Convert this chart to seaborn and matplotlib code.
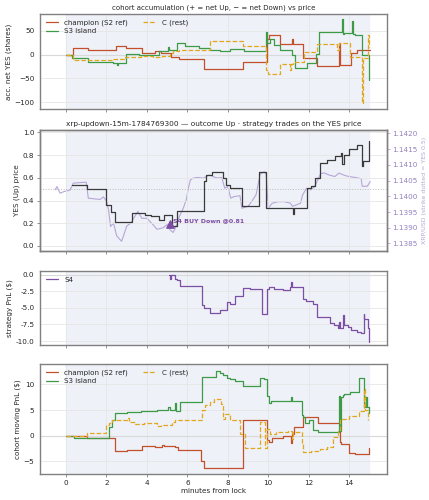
import numpy as np
import pandas as pd
import matplotlib
matplotlib.use("Agg")
import matplotlib.pyplot as plt
import seaborn as sns

# ---- panel 1: cohort accumulation (shares) ----
acc_champ_t = [0, 0.35, 1.1, 2.45, 2.95, 3.75, 4.4, 4.7, 5.2, 5.6, 6.8, 8.75, 9.93, 10.05, 10.6, 11.2, 11.25,
               11.7, 12.4, 13.5, 13.55, 14.1, 14.4, 15.05]
acc_champ_v = [0, 13, 9, 18, 14, 3, 7, 3, -5, -10, -30, -15, 33, 40, 22, 33, 22, -8, -24, 25, -22, 3, 9, 9]

acc_s3_t = [0, 0.3, 1.1, 2.3, 2.5, 2.55, 2.97, 3.6, 4.0, 4.6, 5.05, 5.1, 5.5, 5.9, 6.6, 7.1, 7.6, 8.1, 8.8,
            9.9, 9.95, 10.1, 10.3, 10.6, 11.2, 11.35, 11.9, 12.35, 12.5, 13.65, 13.7, 13.75, 14.15, 14.2,
            14.3, 14.65, 15.0]
acc_s3_v = [0, -7, -15, -17, -22, -17, 1, -1, 0, 8, 15, 9, 24, 19, 14, 10, 7, 12, 7, 48, 25, 33, 20, 9, -1,
            -29, -18, 2, 47, 75, 44, 45, 70, 43, 40, -1, -53]

acc_c_t = [0, 0.35, 2.3, 2.9, 3.7, 4.3, 4.75, 5.15, 5.3, 5.6, 7.12, 8.76, 9.9, 10.0, 10.6, 11.1, 11.15, 11.25,
           11.75, 12.4, 13.4, 13.5, 14.05, 14.65, 14.7, 14.95, 15.0]
acc_c_v = [0, -12, -10, -5, -2, -5, -2, 3, 8, 10, 29, 19, -33, -40, -19, -32, -19, -15, 5, 23, 10, 24, -5,
           -102, -8, 40, 15]

# ---- panel 2: YES price and XRP/USD ----
yes_t = [0.3, 1.02, 2.0, 2.2, 2.4, 3.25, 3.9, 4.2, 4.6, 4.85, 5.25, 5.47, 6.8, 6.9, 7.2, 7.75, 7.9, 8.1, 8.7,
         9.55, 9.9, 11.22, 11.3, 11.9, 12.1, 12.3, 12.55, 12.9, 13.3, 13.6, 13.65, 13.75, 14.0, 14.4, 14.62,
         14.7, 14.95, 15.0]
yes_v = [0.54, 0.50, 0.36, 0.30, 0.21, 0.29, 0.27, 0.26, 0.23, 0.27, 0.18, 0.31, 0.57, 0.62, 0.655, 0.60,
         0.54, 0.51, 0.35, 0.655, 0.33, 0.28, 0.33, 0.51, 0.53, 0.60, 0.73, 0.76, 0.79, 0.82, 0.72, 0.80,
         0.85, 0.89, 0.70, 0.75, 0.75, 0.92]

xrp_t = [-0.54, -0.45, -0.3, -0.1, 0.2, 0.36, 1.0, 1.1, 1.68, 1.85, 2.0, 2.1, 2.2, 2.35, 2.5, 2.6, 2.75,
         3.0, 3.2, 3.4, 3.55, 3.75, 4.0, 4.3, 4.5, 4.8, 5.0, 5.15, 5.3, 5.45, 5.6, 5.8, 5.95, 6.05, 6.15,
         6.3, 6.5, 6.8, 7.1, 7.3, 7.5, 7.7, 7.85, 8.0, 8.15, 8.3, 8.6, 8.7, 8.85, 9.0, 9.2, 9.4, 9.6, 9.8,
         9.9, 10.0, 10.2, 10.5, 10.8, 11.1, 11.2, 11.4, 11.6, 11.7, 11.9, 12.1, 12.3, 12.45, 12.6, 12.8,
         13.0, 13.3, 13.5, 13.8, 14.0, 14.3, 14.6, 14.65, 14.9, 15.05]
xrp_v = [1.14021, 1.14031, 1.14010, 1.14015, 1.14020, 1.14042, 1.14045, 1.13994, 1.13990, 1.13998, 1.13985,
         1.13957, 1.13904, 1.13915, 1.13875, 1.13867, 1.13857, 1.13905, 1.13915, 1.13936, 1.13952, 1.13930,
         1.13930, 1.13910, 1.13895, 1.13900, 1.13910, 1.13893, 1.13885, 1.13905, 1.13935, 1.13962, 1.13990,
         1.14026, 1.14052, 1.14058, 1.14060, 1.14058, 1.14068, 1.14062, 1.14058, 1.14060, 1.14026, 1.14031,
         1.13994, 1.13999, 1.14002, 1.13962, 1.13965, 1.13968, 1.13985, 1.14005, 1.14070, 1.14078, 1.14070,
         1.13962, 1.13978, 1.13983, 1.13983, 1.13978, 1.13968, 1.13973, 1.13978, 1.14004, 1.14026, 1.14020,
         1.14031, 1.14052, 1.14073, 1.14074, 1.14068, 1.14063, 1.14074, 1.14066, 1.14063, 1.14060, 1.14056,
         1.14032, 1.14032, 1.14047]
trade_t = 5.15
trade_yes = 0.19
trade_label = "S4 BUY Down @0.81"

# ---- panel 3: strategy PnL ----
s4_t = [5.1, 5.15, 5.2, 5.4, 5.5, 5.63, 6.72, 6.8, 7.1, 7.6, 7.94, 8.1, 8.35, 8.76, 9.1, 9.67, 9.92, 10.05,
        10.3, 10.74, 11.07, 11.12, 11.17, 11.7, 11.86, 12.2, 12.4, 12.55, 13.05, 13.25, 13.45, 13.5, 13.55,
        13.7, 13.75, 13.95, 14.1, 14.37, 14.6, 14.72, 14.76, 14.94, 15.0]
s4_v = [-0.1, -0.6, 0.0, -0.6, -0.85, -1.7, -4.6, -5.1, -5.85, -5.35, -4.2, -4.5, -3.2, -2.0, -2.1, -5.95,
        -2.2, -1.85, -2.1, -2.25, -1.85, -1.1, -1.85, -3.6, -4.0, -4.5, -6.35, -6.45, -7.35, -7.6, -8.1,
        -7.1, -8.1, -6.1, -7.6, -7.85, -8.35, -8.6, -8.85, -6.0, -6.7, -8.1, -10.1]

# ---- panel 4: cohort moving PnL ----
pnl_champ_t = [0, 1.05, 2.42, 3.0, 3.74, 4.4, 4.75, 4.85, 5.4, 5.55, 6.7, 6.8, 8.76, 9.92, 10.05, 10.2, 10.74,
               11.15, 11.2, 11.3, 11.7, 12.47, 13.54, 13.6, 14.0, 14.3, 15.0]
pnl_champ_v = [0, -0.5, -3.0, -2.8, -2.1, -2.3, -1.8, -2.0, -2.2, -2.8, -5.0, -6.4, 3.0, -0.9, -1.2, -0.45,
               0.0, -1.5, 0.4, 1.7, 3.7, 2.4, -1.2, -1.7, -3.3, -3.5, -2.4]

pnl_s3_t = [0, 0.4, 2.0, 2.1, 2.25, 2.42, 3.0, 3.7, 4.5, 5.05, 5.15, 5.4, 5.45, 5.63, 6.75, 7.4, 7.6, 7.75,
            7.95, 8.1, 8.35, 8.76, 9.6, 9.78, 9.95, 10.05, 10.15, 10.55, 11.15, 11.2, 11.65, 11.72, 11.8, 12.0,
            12.2, 12.47, 13.5, 13.55, 13.62, 13.68, 13.75, 14.05, 14.5, 14.73, 14.85, 14.9, 15.0]
pnl_s3_v = [0, -0.5, -0.5, 1.75, 3.0, 4.45, 4.6, 4.8, 5.0, 5.5, 5.1, 6.3, 4.9, 6.5, 11.4, 12.7, 12.3, 11.9,
            11.3, 11.0, 10.7, 9.7, 11.2, 11.0, 7.8, 6.3, 6.7, 6.8, 7.6, 6.7, 4.0, 3.6, 2.5, 3.0, 1.1, 0.7,
            7.8, 1.0, 7.5, 8.0, 8.1, 8.5, 11.2, 5.6, 7.5, 5.6, 4.4]

pnl_c_t = [0, 1.05, 2.0, 2.1, 2.25, 2.42, 3.0, 3.1, 3.4, 3.85, 4.5, 4.7, 5.25, 5.4, 6.75, 6.85, 7.1, 7.3,
           7.65, 7.75, 7.85, 8.1, 8.35, 8.6, 8.85, 9.6, 9.85, 9.95, 10.1, 10.4, 11.0, 11.2, 11.25, 11.65,
           11.73, 12.1, 12.55, 12.9, 13.2, 13.45, 13.55, 14.0, 14.5, 14.75, 14.8, 14.95]
pnl_c_v = [0, 0.5, 2.1, 2.5, 3.0, 3.15, 3.35, 2.7, 2.25, 2.5, 1.9, 2.1, 2.7, 3.0, 5.1, 5.9, 6.6, 7.2, 6.2,
           3.3, 4.3, 3.0, 3.0, 0.4, -2.5, 2.6, -2.5, 1.35, 0.4, 0.7, 1.0, -0.6, 0.7, -1.5, -3.2, -3.0, -2.6,
           -2.2, -0.25, 1.0, 3.3, 3.9, 4.9, 9.1, 5.0, 3.0]

C_CHAMP = "#c2502b"
C_S3 = "#3d9a47"
C_REST = "#e2a71e"
C_S4 = "#7c4fa5"
C_XRP = "#b6a6d8"
SPAN = "#eef1f8"

sns.set_style("whitegrid")
plt.rcParams["font.family"] = ["DejaVu Sans"]
fs = 5.2
lfs = 5.1  # legend font

fig = plt.figure(figsize=(4.29, 5.0), dpi=100)
ax1 = fig.add_axes([0.0932, 0.782, 0.809, 0.19])
ax2 = fig.add_axes([0.0932, 0.498, 0.809, 0.242], sharex=ax1)
ax3 = fig.add_axes([0.0932, 0.310, 0.809, 0.148], sharex=ax1)
ax4 = fig.add_axes([0.0932, 0.052, 0.809, 0.220], sharex=ax1)


def steps(ax, t, v, **kw):
    df = pd.DataFrame({"t": t, "v": v})
    sns.lineplot(data=df, x="t", y="v", ax=ax, estimator=None, sort=False,
                 drawstyle="steps-post", **kw)


def frame(ax):
    for s in ax.spines.values():
        s.set_color("#808080")
        s.set_linewidth(1.0)


for ax in (ax1, ax2, ax3, ax4):
    if ax is not ax2:
        ax.axvspan(0, 15, color=SPAN, zorder=0)
    ax.grid(True, color="#e6e6e6", lw=0.6)
    frame(ax)
    ax.tick_params(axis="both", labelsize=fs, length=2.5, width=0.6, color="#808080", pad=1.5)
    ax.tick_params(axis="x", bottom=True)

# panel 1
ax1.axhline(0, color="#d9d9d9", lw=0.8, zorder=1)
steps(ax1, acc_champ_t, acc_champ_v, color=C_CHAMP, lw=0.9, label="champion (S2 ref)")
steps(ax1, acc_s3_t, acc_s3_v, color=C_S3, lw=0.9, label="S3 island")
steps(ax1, acc_c_t, acc_c_v, color=C_REST, lw=0.9, ls="--", label="C (rest)")
ax1.set_ylim(-114, 85)
ax1.set_yticks([-100, -50, 0, 50])
ax1.set_ylabel("acc. net YES (shares)", fontsize=fs, labelpad=2)
ax1.set_xlabel("")
ax1.set_title("cohort accumulation (+ = net Up, \u2212 = net Down) vs price", fontsize=5.0, pad=3)
ax1.legend(loc="upper left", ncol=2, fontsize=lfs, frameon=False, handlelength=1.8,
           columnspacing=2.2, borderaxespad=0.4, labelspacing=0.3)

# panel 2: right axis (XRP) drawn underneath the YES axis
ax2r = ax2.twinx()
ax2r.axvspan(0, 15, color=SPAN, zorder=0)
sns.lineplot(x=xrp_t, y=xrp_v, ax=ax2r, color=C_XRP, lw=0.8, estimator=None, sort=False)
ax2r.set_ylim(1.13826, 1.14211)
ax2r.set_yticks([1.1385, 1.1390, 1.1395, 1.1400, 1.1405, 1.1410, 1.1415, 1.1420])
ax2r.yaxis.set_major_formatter(matplotlib.ticker.FormatStrFormatter("%.4f"))
ax2r.grid(False)
ax2r.tick_params(axis="y", labelsize=fs, labelcolor="#9480c0", colors=C_XRP, length=2.5, width=0.6, pad=1.5)
ax2r.set_ylabel("XRP/USD (strike dotted = YES 0.5)", fontsize=fs - 0.7, color=C_XRP, labelpad=3)
frame(ax2r)
ax2.set_zorder(ax2r.get_zorder() + 1)
ax2.patch.set_visible(False)
ax2r.patch.set_visible(True)
ax2r.patch.set_facecolor("white")

ax2.axhline(0.5, color="#bbbbbb", lw=0.7, ls=":", zorder=1)
steps(ax2, yes_t, yes_v, color="#3a3a3a", lw=0.9)
ax2.set_ylim(-0.044, 1.02)
ax2.set_yticks([0.0, 0.2, 0.4, 0.6, 0.8, 1.0])
ax2.set_ylabel("YES (Up) price", fontsize=fs, labelpad=2)
ax2.set_xlabel("")
ax2.set_title("xrp-updown-15m-1784769300 \u2014 outcome Up \u00b7 strategy trades on the YES price",
              fontsize=5.35, pad=3)
ax2.scatter([trade_t], [trade_yes], marker="^", s=28, color=C_S4, zorder=5)
ax2.annotate(trade_label, (trade_t, trade_yes), xytext=(2, 1), textcoords="offset points",
             fontsize=4.5, color=C_S4, fontweight="bold", va="bottom")

# panel 3
ax3.axhline(0, color="#d9d9d9", lw=0.8, zorder=1)
steps(ax3, s4_t, s4_v, color=C_S4, lw=0.9, label="S4")
ax3.set_ylim(-10.6, 0.54)
ax3.set_yticks([-10.0, -7.5, -5.0, -2.5, 0.0])
ax3.yaxis.set_major_formatter(matplotlib.ticker.FormatStrFormatter("%.1f"))
ax3.set_ylabel("strategy PnL ($)", fontsize=fs, labelpad=2)
ax3.set_xlabel("")
ax3.legend(loc="upper left", fontsize=lfs, frameon=False, handlelength=1.8, borderaxespad=0.4)

# panel 4
ax4.axhline(0, color="#d9d9d9", lw=0.8, zorder=1)
steps(ax4, pnl_champ_t, pnl_champ_v, color=C_CHAMP, lw=0.9, label="champion (S2 ref)")
steps(ax4, pnl_s3_t, pnl_s3_v, color=C_S3, lw=0.9, label="S3 island")
steps(ax4, pnl_c_t, pnl_c_v, color=C_REST, lw=0.9, ls="--", label="C (rest)")
ax4.set_ylim(-7.5, 14.0)
ax4.set_yticks([-5, 0, 5, 10])
ax4.set_ylabel("cohort moving PnL ($)", fontsize=fs, labelpad=2)
ax4.set_xlabel("minutes from lock", fontsize=fs, labelpad=2)
ax4.legend(loc="upper left", ncol=2, fontsize=lfs, frameon=False, handlelength=1.8,
           columnspacing=2.2, borderaxespad=0.4, labelspacing=0.3)

ax1.set_xlim(-1.29, 15.88)
ax4.set_xticks(range(0, 15, 2))
for ax in (ax1, ax2, ax3):
    plt.setp(ax.get_xticklabels(), visible=False)

fig.savefig("out.png", dpi=100)
